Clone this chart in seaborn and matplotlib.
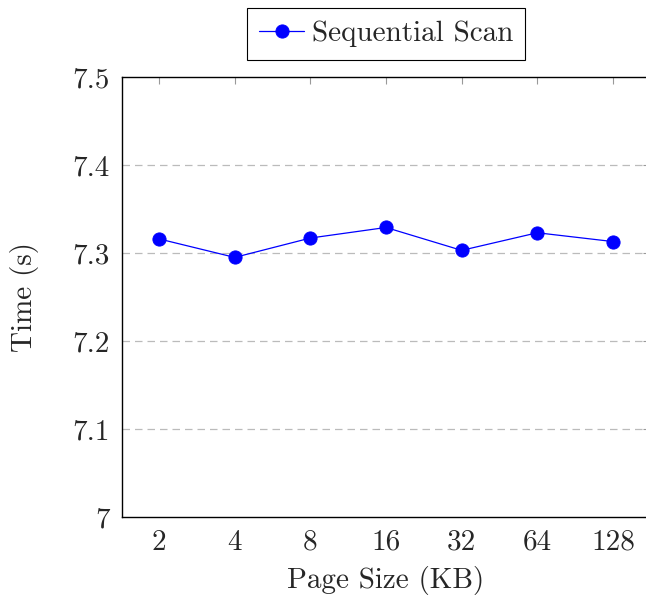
import matplotlib
matplotlib.use("Agg")
import matplotlib.pyplot as plt
import seaborn as sns
import pandas as pd

page_sizes = ["2", "4", "8", "16", "32", "64", "128"]
seq_scan_time = [7.316, 7.295, 7.317, 7.329, 7.303, 7.323, 7.313]
y_ticks = [7.0, 7.1, 7.2, 7.3, 7.4, 7.5]
y_tick_labels = ["7", "7.1", "7.2", "7.3", "7.4", "7.5"]

sns.set_style("white")
plt.rcParams["font.family"] = ["serif"]
plt.rcParams["font.serif"] = ["cmr10", "DejaVu Serif"]
plt.rcParams["mathtext.fontset"] = "cm"
plt.rcParams["axes.unicode_minus"] = False

df = pd.DataFrame({"Page Size (KB)": page_sizes, "Time (s)": seq_scan_time})

fig = plt.figure(figsize=(6.46, 5.96), dpi=100)
ax = fig.add_axes([122 / 646, 1 - 517 / 596, (650 - 122) / 646, (517 - 77) / 596])

sns.pointplot(data=df, x="Page Size (KB)", y="Time (s)", order=page_sizes,
              color="#0000ff", markers="o", linestyles="-", errorbar=None,
              markersize=9.5, linewidth=0.9, label="Sequential Scan", ax=ax)

ax.set_xlim(-0.49, 6.49)
ax.set_ylim(7.0, 7.5)
ax.set_yticks(y_ticks)
ax.set_yticklabels(y_tick_labels)
ax.set_xticks(range(len(page_sizes)))
ax.set_xticklabels(page_sizes)

for y in y_ticks[1:-1]:
    ax.axhline(y, color="#bbbbbb", linestyle=(0, (6, 4)), linewidth=0.9, zorder=0)

ax.tick_params(axis="both", direction="in", length=5, width=0.8, color="#999999",
               top=True, right=True, labelsize=21, pad=9)
for s in ax.spines.values():
    s.set_color("black")
    s.set_linewidth(1.0)

ax.set_xlabel("Page Size (KB)", fontsize=21, labelpad=7)
ax.set_ylabel("Time (s)", fontsize=21, labelpad=24)

leg = ax.legend(loc="center", bbox_to_anchor=(386 / 646, 1 - 34 / 596),
                bbox_transform=fig.transFigure, fontsize=21, frameon=True,
                fancybox=False, edgecolor="black", framealpha=1,
                handlelength=1.55, handletextpad=0.25, borderpad=0.43,
                borderaxespad=0)
leg.get_frame().set_linewidth(0.8)

fig.savefig("out.png", dpi=100)
